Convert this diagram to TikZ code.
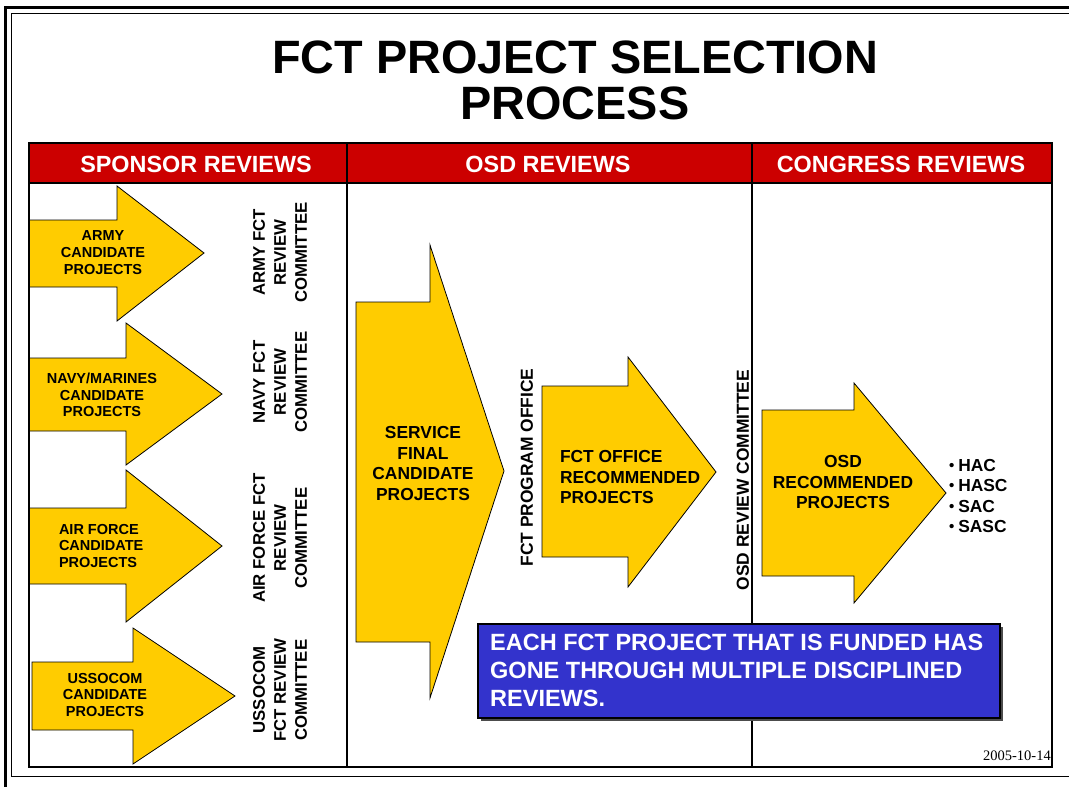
\documentclass[tikz,border=0pt]{standalone}
\usepackage{fontspec}
\setmainfont{Liberation Sans}
\newfontfamily\datefont{Liberation Serif}
\definecolor{fct_yellow}{HTML}{FFCC00}
\definecolor{fct_red}{HTML}{CC0000}
\definecolor{fct_blue}{HTML}{3333CC}

\tikzset{arrow_fill/.style={fill=fct_yellow, draw=black, line width=0.8pt, line join=miter}}
\tikzset{arrow_text/.style={inner sep=0pt, outer sep=0pt, align=center, font=\bfseries\fontsize{14.5}{16.7}\selectfont}}
\tikzset{committee_text/.style={inner sep=0pt, outer sep=0pt, align=center, rotate=90, font=\bfseries\fontsize{16.8}{21}\selectfont}}
\tikzset{big_text/.style={inner sep=0pt, outer sep=0pt, align=center, font=\bfseries\fontsize{17.4}{20.5}\selectfont}}
\tikzset{header_text/.style={inner sep=0pt, outer sep=0pt, text=white, font=\bfseries\fontsize{23.4}{24}\selectfont}}
\tikzset{table_line/.style={draw=black, line width=2.6pt}}
\newcommand{\hearingdot}{\raisebox{1pt}{\fontsize{15}{15}\selectfont •}\hspace{4pt}}

\begin{document}
\begin{tikzpicture}[x=1pt, y=-1pt]
    \useasboundingbox (0,0) rectangle (1069,787);
    % frame
    \draw[line width=3pt] (5,7) rectangle (1080,790);
    \draw[line width=1pt] (11,13) rectangle (1074,776);
    % title
    \node[inner sep=0pt, align=center, font=\bfseries\fontsize{46.8}{45.5}\selectfont] (title) at (575,80.5) {FCT PROJECT SELECTION\\PROCESS};
    % table
    \fill[fct_red] (29,143) rectangle (1052,183);
    \draw[table_line] (29,143) rectangle (1052,767);
    \draw[table_line] (29,183) -- (1052,183);
    \draw[table_line] (347,143) -- (347,767);
    \draw[table_line] (752,143) -- (752,767);
    \node[header_text] (sponsor) at (196,164) {SPONSOR REVIEWS};
    \node[header_text] (osd) at (548,164) {OSD REVIEWS};
    \node[header_text] (congress) at (901,164) {CONGRESS REVIEWS};

    % sponsor arrows
    \draw[arrow_fill] (30,220) -- (117,220) -- (117,186) -- (204,253) -- (117,321) -- (117,287) -- (30,287);
    \draw[arrow_fill] (30,358) -- (126,358) -- (126,323) -- (222,394) -- (126,465) -- (126,431) -- (30,431);
    \draw[arrow_fill] (30,508) -- (126,508) -- (126,470) -- (222,546) -- (126,622) -- (126,584) -- (30,584);
    \draw[arrow_fill] (32,662) -- (133,662) -- (133,628) -- (235,696) -- (133,764) -- (133,730) -- (32,730) -- cycle;
    \node[arrow_text] (army) at (103,252.5) {ARMY\\CANDIDATE\\PROJECTS};
    \node[arrow_text] (navy) at (102,395) {NAVY/MARINES\\CANDIDATE\\PROJECTS};
    \node[arrow_text, align=left, anchor=west] (airforce) at (59,546) {AIR FORCE\\CANDIDATE\\PROJECTS};
    \node[arrow_text] (ussocom) at (105,695) {USSOCOM\\CANDIDATE\\PROJECTS};
    \node[committee_text] (army_comm) at (280,252.5) {ARMY FCT\\REVIEW\\COMMITTEE};
    \node[committee_text] (navy_comm) at (280,382) {NAVY FCT\\REVIEW\\COMMITTEE};
    \node[committee_text] (airforce_comm) at (280,538) {AIR FORCE FCT\\REVIEW\\COMMITTEE};
    \node[committee_text] (ussocom_comm) at (280,690) {USSOCOM\\FCT REVIEW\\COMMITTEE};

    % osd arrows
    \draw[arrow_fill] (356,302) -- (430,302) -- (430,245) -- (504,471) -- (430,698) -- (430,642) -- (356,642) -- cycle;
    \node[big_text] (service) at (423,463.5) {SERVICE\\FINAL\\CANDIDATE\\PROJECTS};
    \node[big_text, rotate=90] (program_office) at (527,467.5) {FCT PROGRAM OFFICE};
    \draw[arrow_fill] (542,386) -- (628,386) -- (628,357) -- (716,472) -- (628,587) -- (628,557) -- (542,557) -- cycle;
    \node[big_text, align=left, anchor=west] (fct_office) at (560,477.5) {FCT OFFICE\\RECOMMENDED\\PROJECTS};
    \node[big_text, rotate=90] (osd_comm) at (743,480) {OSD REVIEW COMMITTEE};

    % congress arrow
    \draw[arrow_fill] (762,410) -- (854,410) -- (854,383) -- (946,493) -- (854,603) -- (854,576) -- (762,576) -- cycle;
    \node[big_text] (osd_rec) at (843,482.5) {OSD\\RECOMMENDED\\PROJECTS};
    \node[big_text, align=left, anchor=west] (committees) at (949,496) {\hearingdot HAC\\\hearingdot HASC\\\hearingdot SAC\\\hearingdot SASC};

    % note box
    \fill[black!70] (481,627) rectangle (1003,721);
    \draw[fill=fct_blue, line width=2pt] (478,624) rectangle (1000,718);
    \node[inner sep=0pt, align=left, anchor=west, text=white, font=\bfseries\fontsize{23.5}{28}\selectfont] (note) at (490,670.5) {EACH FCT PROJECT THAT IS FUNDED HAS\\GONE THROUGH MULTIPLE DISCIPLINED\\REVIEWS.};
    \node[inner sep=0pt, anchor=base east, font=\datefont\fontsize{14.5}{15}\selectfont] (date) at (1051,760) {2005-10-14};
\end{tikzpicture}
\end{document}
